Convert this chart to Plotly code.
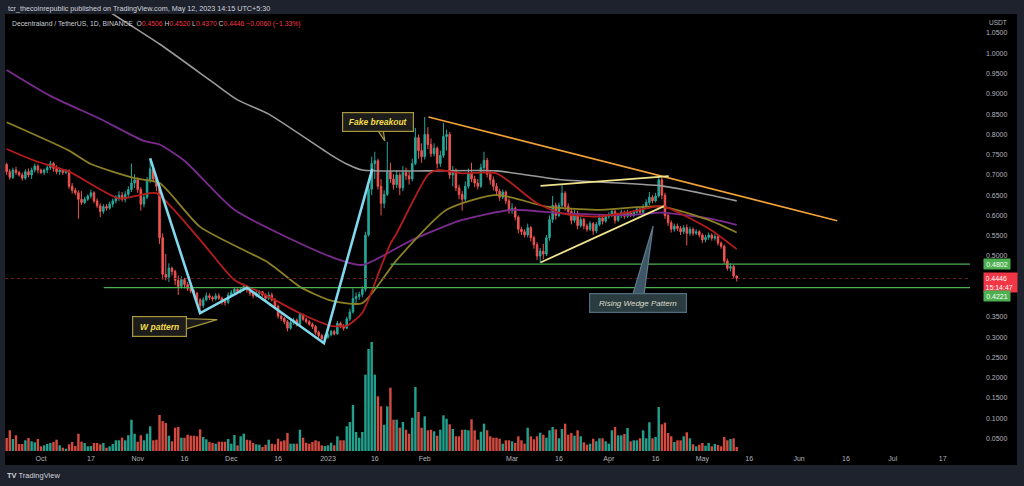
import pandas as pd
import plotly.graph_objects as go

# ---------------- data ----------------
dates = pd.date_range("2022-09-20", "2023-05-12", freq="D")
first_open = 0.726

close = [
    # Sep 20-30
    0.708, 0.694, 0.712, 0.706, 0.700, 0.692, 0.708, 0.700, 0.712, 0.722, 0.712,
    # Oct
    0.706, 0.712, 0.718, 0.728, 0.716, 0.708, 0.712, 0.706, 0.710, 0.672, 0.662, 0.656, 0.640, 0.632, 0.640, 0.648,
    0.656, 0.636, 0.624, 0.610, 0.622, 0.618, 0.628, 0.636, 0.642, 0.650, 0.640, 0.652, 0.664, 0.680, 0.688,
    # Nov
    0.664, 0.628, 0.645, 0.688, 0.715, 0.690, 0.672, 0.545, 0.455, 0.448, 0.470, 0.462, 0.440, 0.425, 0.442,
    0.430, 0.420, 0.414, 0.408, 0.392, 0.378, 0.392, 0.402, 0.398, 0.394, 0.402, 0.396, 0.388, 0.386, 0.404,
    # Dec
    0.410, 0.418, 0.412, 0.418, 0.425, 0.416, 0.408, 0.402, 0.408, 0.412, 0.404, 0.396, 0.404, 0.392, 0.376, 0.352,
    0.346, 0.338, 0.322, 0.336, 0.342, 0.332, 0.356, 0.344, 0.338, 0.332, 0.326, 0.312, 0.304, 0.296, 0.300,
    # Jan
    0.306, 0.314, 0.308, 0.334, 0.328, 0.322, 0.345, 0.362, 0.395, 0.400, 0.405, 0.418, 0.552, 0.665, 0.728, 0.735,
    0.672, 0.630, 0.652, 0.708, 0.690, 0.676, 0.700, 0.668, 0.706, 0.698, 0.690, 0.728, 0.792, 0.760, 0.745,
    # Feb
    0.800, 0.775, 0.752, 0.766, 0.728, 0.748, 0.795, 0.800, 0.700, 0.712, 0.668, 0.652, 0.640, 0.672,
    0.705, 0.690, 0.680, 0.672, 0.718, 0.736, 0.702, 0.688, 0.672, 0.660, 0.645, 0.658, 0.636, 0.612,
    # Mar
    0.618, 0.596, 0.566, 0.560, 0.552, 0.570, 0.545, 0.528, 0.500, 0.512, 0.505, 0.545, 0.590, 0.625, 0.600, 0.625,
    0.655, 0.622, 0.610, 0.588, 0.606, 0.575, 0.590, 0.574, 0.566, 0.580, 0.562, 0.578, 0.594, 0.586, 0.598,
    # Apr
    0.602, 0.610, 0.588, 0.600, 0.608, 0.598, 0.606, 0.600, 0.608, 0.616, 0.608, 0.622, 0.632, 0.645, 0.636,
    0.648, 0.688, 0.650, 0.600, 0.582, 0.566, 0.574, 0.568, 0.560, 0.570, 0.556, 0.566, 0.556, 0.560, 0.552,
    # May 1-12
    0.540, 0.546, 0.552, 0.544, 0.548, 0.532, 0.524, 0.488, 0.470, 0.474, 0.4506, 0.4446,
]

high = [
    0.730, 0.715, 0.718, 0.720, 0.710, 0.706, 0.714, 0.716, 0.718, 0.728, 0.726,
    0.716, 0.716, 0.724, 0.735, 0.732, 0.724, 0.718, 0.714, 0.714, 0.714, 0.680, 0.668, 0.662, 0.660, 0.646, 0.652,
    0.664, 0.660, 0.642, 0.630, 0.628, 0.628, 0.634, 0.642, 0.650, 0.660, 0.658, 0.660, 0.672, 0.728, 0.702,
    0.694, 0.670, 0.652, 0.695, 0.741, 0.722, 0.698, 0.680, 0.556, 0.505, 0.482, 0.474, 0.466, 0.452, 0.450,
    0.446, 0.436, 0.428, 0.418, 0.412, 0.396, 0.398, 0.410, 0.408, 0.402, 0.408, 0.408, 0.400, 0.394, 0.410,
    0.416, 0.422, 0.420, 0.422, 0.432, 0.428, 0.420, 0.412, 0.414, 0.416, 0.414, 0.408, 0.412, 0.410, 0.396, 0.380,
    0.358, 0.350, 0.342, 0.342, 0.348, 0.346, 0.362, 0.358, 0.348, 0.342, 0.336, 0.330, 0.316, 0.308, 0.306,
    0.310, 0.318, 0.318, 0.340, 0.338, 0.332, 0.350, 0.370, 0.420, 0.410, 0.412, 0.425, 0.560, 0.680, 0.745, 0.757,
    0.740, 0.690, 0.662, 0.782, 0.730, 0.702, 0.712, 0.706, 0.722, 0.718, 0.708, 0.740, 0.816, 0.800, 0.778,
    0.843, 0.818, 0.790, 0.778, 0.770, 0.760, 0.828, 0.812, 0.806, 0.722, 0.716, 0.676, 0.660, 0.684,
    0.716, 0.730, 0.698, 0.690, 0.728, 0.757, 0.742, 0.710, 0.696, 0.680, 0.666, 0.664, 0.662, 0.642,
    0.630, 0.622, 0.600, 0.572, 0.566, 0.580, 0.574, 0.550, 0.534, 0.520, 0.530, 0.552, 0.600, 0.648, 0.632, 0.632,
    0.675, 0.660, 0.630, 0.618, 0.614, 0.612, 0.598, 0.594, 0.580, 0.586, 0.584, 0.584, 0.602, 0.600, 0.604,
    0.608, 0.616, 0.614, 0.606, 0.614, 0.612, 0.614, 0.610, 0.612, 0.622, 0.620, 0.628, 0.640, 0.658, 0.650,
    0.656, 0.697, 0.694, 0.656, 0.606, 0.588, 0.580, 0.580, 0.574, 0.576, 0.578, 0.572, 0.570, 0.566, 0.564,
    0.556, 0.552, 0.558, 0.556, 0.554, 0.552, 0.536, 0.528, 0.494, 0.482, 0.478, 0.4520,
]

low = [
    0.700, 0.688, 0.690, 0.700, 0.696, 0.686, 0.688, 0.694, 0.690, 0.706, 0.704,
    0.702, 0.700, 0.704, 0.712, 0.708, 0.702, 0.700, 0.700, 0.702, 0.666, 0.654, 0.650, 0.592, 0.626, 0.628, 0.636,
    0.642, 0.630, 0.618, 0.596, 0.604, 0.612, 0.614, 0.620, 0.630, 0.636, 0.634, 0.632, 0.646, 0.658, 0.668,
    0.656, 0.612, 0.620, 0.640, 0.680, 0.682, 0.660, 0.530, 0.442, 0.440, 0.436, 0.452, 0.428, 0.404, 0.420,
    0.420, 0.414, 0.408, 0.402, 0.380, 0.360, 0.372, 0.388, 0.392, 0.388, 0.390, 0.392, 0.380, 0.378, 0.382,
    0.400, 0.404, 0.406, 0.408, 0.414, 0.410, 0.402, 0.396, 0.398, 0.404, 0.400, 0.390, 0.392, 0.388, 0.370, 0.346,
    0.340, 0.332, 0.314, 0.318, 0.330, 0.326, 0.328, 0.340, 0.334, 0.328, 0.320, 0.306, 0.298, 0.285, 0.292,
    0.296, 0.302, 0.304, 0.306, 0.322, 0.316, 0.320, 0.340, 0.358, 0.384, 0.392, 0.398, 0.412, 0.548, 0.650, 0.690,
    0.664, 0.600, 0.618, 0.648, 0.680, 0.664, 0.668, 0.650, 0.660, 0.688, 0.676, 0.684, 0.724, 0.740, 0.730,
    0.738, 0.764, 0.744, 0.746, 0.716, 0.720, 0.742, 0.760, 0.690, 0.672, 0.660, 0.640, 0.612, 0.634,
    0.666, 0.682, 0.670, 0.664, 0.668, 0.706, 0.694, 0.676, 0.662, 0.648, 0.636, 0.640, 0.628, 0.604,
    0.604, 0.588, 0.556, 0.552, 0.546, 0.546, 0.536, 0.518, 0.490, 0.483, 0.492, 0.500, 0.538, 0.582, 0.590, 0.596,
    0.618, 0.612, 0.600, 0.578, 0.582, 0.566, 0.570, 0.566, 0.560, 0.562, 0.552, 0.556, 0.574, 0.578, 0.582,
    0.592, 0.596, 0.580, 0.584, 0.594, 0.592, 0.594, 0.596, 0.596, 0.604, 0.602, 0.604, 0.616, 0.626, 0.630,
    0.632, 0.644, 0.640, 0.592, 0.574, 0.558, 0.560, 0.562, 0.552, 0.554, 0.526, 0.550, 0.550, 0.552, 0.546,
    0.532, 0.534, 0.540, 0.538, 0.538, 0.526, 0.518, 0.480, 0.464, 0.462, 0.446, 0.4370,
]

# volume (relative units read as bar heights)
volume = [
    13, 20.7, 12, 15.7, 7, 7, 10.7, 13, 9.7, 8.7, 12,
    4.7, 5.7, 7, 8, 9, 11.3, 5.7, 3.3, 2.3, 6.7, 9, 5, 17.3, 9.3, 8, 4.7, 5, 8, 8, 6.7, 8, 3.3, 4.7, 7, 10.7,
    10.7, 13.3, 10.7, 15.7, 31.3, 17.3,
    9.3, 15.7, 10.7, 17.3, 24.7, 10.7, 11.3, 36, 30, 28, 15.3, 9.7, 23.3, 24, 13.3, 13.3, 16.3, 15.3, 15.3, 14.7,
    21.7, 14, 11.7, 9, 8, 7.3, 9.3, 9.3, 9.3, 12,
    7.3, 16, 5.7, 14.7, 17.3, 11.3, 10.7, 8, 6.7, 6.3, 4, 6.3, 11.3, 7.3, 6.7, 12.3, 9.7, 10.7, 18, 7.3, 7.3, 7.3,
    21.3, 13.3, 8.3, 7.3, 9, 10.7, 9.7, 5.7, 5,
    5.7, 8.3, 5.7, 14.7, 10.7, 10.7, 24.7, 29, 46, 19, 13.3, 19, 76.3, 102, 109, 76.3, 54.7, 44.7, 26.3, 44.7,
    63.3, 31.3, 31.3, 23.3, 29, 21.3, 17.3, 33.3, 64, 39, 23.3,
    34.7, 20.7, 21.3, 19.7, 15.3, 21.3, 35.7, 32.3, 26.7, 22, 14.7, 14.7, 21.3, 21.3, 20.7, 31.7, 20.7, 11.3,
    19.3, 27.3, 20.7, 14.7, 13.3, 13.3, 12.3, 7.3, 10.7, 10.7,
    9.7, 8, 14.7, 10.7, 7.3, 23.3, 14.7, 11.7, 14.7, 18.3, 16.3, 13.3, 20.7, 24, 21.7, 12.7, 22, 27.3, 16.3, 18,
    15.3, 20.7, 14.7, 8.7, 6.3, 7.3, 12.3, 9.7, 12.7, 12.7, 9.7,
    7.3, 20.7, 24, 15.7, 15.7, 17, 23, 9.7, 10.7, 10.7, 12.7, 20.7, 12.7, 28.7, 12.7, 14, 44, 26.7, 28.3, 18,
    14.7, 9, 10.7, 10.7, 14.7, 18.7, 12.7, 6.7, 4.7, 6.3,
    8, 5.3, 8, 4.7, 7, 6, 4.7, 14, 10.7, 12, 12.7, 4,
]

# crypto daily candles: each open is the previous close
open_ = [first_open] + close[:-1]

# moving averages (read at waypoints)
ma20_dates = ["2022-09-20", "2022-09-29", "2022-10-10", "2022-10-26", "2022-11-02", "2022-11-07", "2022-11-21",
              "2022-12-02", "2022-12-10", "2022-12-23", "2023-01-02", "2023-01-07", "2023-01-12", "2023-01-18",
              "2023-01-21", "2023-01-23", "2023-02-02", "2023-02-05", "2023-02-13", "2023-02-24", "2023-03-09",
              "2023-03-17", "2023-03-28", "2023-04-08", "2023-04-18", "2023-05-03", "2023-05-12"]
ma20_vals = [0.764, 0.735, 0.708, 0.642, 0.651, 0.655, 0.540, 0.441, 0.412, 0.359, 0.328, 0.328, 0.360, 0.474,
             0.530, 0.556, 0.700, 0.712, 0.704, 0.704, 0.630, 0.605, 0.597, 0.609, 0.623, 0.568, 0.517]

ma50_dates = ["2022-09-20", "2022-10-10", "2022-10-17", "2022-10-31", "2022-11-08", "2022-11-21", "2022-12-13",
              "2022-12-23", "2023-01-02", "2023-01-12", "2023-01-23", "2023-02-08", "2023-02-24", "2023-03-12",
              "2023-03-28", "2023-04-18", "2023-05-03", "2023-05-12"]
ma50_vals = [0.830, 0.760, 0.727, 0.692, 0.680, 0.572, 0.483, 0.424, 0.390, 0.384, 0.490, 0.614, 0.651, 0.622,
             0.614, 0.622, 0.589, 0.558]

ma100_dates = ["2022-09-20", "2022-10-04", "2022-10-20", "2022-11-03", "2022-11-08", "2022-11-16", "2022-12-02",
               "2023-01-02", "2023-01-12", "2023-01-28", "2023-02-13", "2023-03-01", "2023-03-17", "2023-04-08",
               "2023-04-18", "2023-05-03", "2023-05-12"]
ma100_vals = [0.959, 0.895, 0.838, 0.784, 0.775, 0.735, 0.614, 0.498, 0.478, 0.540, 0.589, 0.614, 0.605, 0.601,
              0.607, 0.593, 0.577]

ma200_dates = ["2022-10-20", "2022-10-24", "2022-11-08", "2022-11-25", "2022-12-03", "2022-12-13", "2023-01-02",
               "2023-01-07", "2023-01-12", "2023-02-02", "2023-02-24", "2023-03-17", "2023-04-18", "2023-05-03",
               "2023-05-12"]
ma200_vals = [1.117, 1.097, 1.023, 0.929, 0.885, 0.850, 0.749, 0.727, 0.712, 0.710, 0.710, 0.688, 0.673, 0.651,
              0.636]

# drawings (anchors as day offsets from 2023-01-01, price)
w_days = [-57, -41, -26, -1.3, 14.2]
w_prices = [0.741, 0.359, 0.422, 0.285, 0.715]
trend_days = [32.2, 163.2]
trend_prices = [0.843, 0.587]
wedge_up_days = [68.1, 109.2]
wedge_up_prices = [0.673, 0.697]
wedge_lo_days = [68.1, 107.7]
wedge_lo_prices = [0.484, 0.623]
support_hi = 0.4802
support_hi_start = 20
support_lo = 0.4221
support_lo_start = -71.9
last_price = 0.4446

x_ticks = ["2022-10-01", "2022-10-17", "2022-11-01", "2022-11-16", "2022-12-01", "2022-12-16", "2023-01-01",
           "2023-01-16", "2023-02-01", "2023-03-01", "2023-03-16", "2023-04-01", "2023-04-16", "2023-05-01",
           "2023-05-16", "2023-06-01", "2023-06-16", "2023-07-01", "2023-07-17"]
x_labels = ["Oct", "17", "Nov", "16", "Dec", "16", "2023", "16", "Feb", "Mar", "16", "Apr", "16", "May", "16",
            "Jun", "16", "Jul", "17"]

# ---------------- figure ----------------
BASE = pd.Timestamp("2023-01-01")


def day(off):
    return BASE + pd.Timedelta(days=off)


x_start, x_end = day(-103.53), day(205.77)
FONT = "Liberation Sans"
AX = "#b2b5be"

fig = go.Figure()

vol_colors = ["#22a08e" if c >= o else "#d24a40" for o, c in zip(open_, close)]
fig.add_trace(go.Bar(x=dates, y=volume, marker=dict(color=vol_colors, line=dict(width=0)), yaxis="y2",
                     hoverinfo="skip"))

fig.add_trace(go.Candlestick(
    x=dates, open=open_, high=high, low=low, close=close,
    increasing=dict(line=dict(color="#26a69a", width=1), fillcolor="#26a69a"),
    decreasing=dict(line=dict(color="#ef5350", width=1), fillcolor="#ef5350"),
    whiskerwidth=0))

for dts, vals, col, w in [(ma200_dates, ma200_vals, "#9a9a9a", 1.6),
                          (ma100_dates, ma100_vals, "#7b2a8e", 1.8),
                          (ma50_dates, ma50_vals, "#8c7f24", 1.8),
                          (ma20_dates, ma20_vals, "#b51c1c", 1.8)]:
    fig.add_trace(go.Scatter(x=pd.to_datetime(dts), y=vals, mode="lines",
                             line=dict(color=col, width=w, shape="spline", smoothing=0.6), hoverinfo="skip"))

# horizontal levels
fig.add_trace(go.Scatter(x=[x_start, x_end], y=[last_price, last_price], mode="lines",
                         line=dict(color="#6a1d26", width=1, dash="dot"), hoverinfo="skip"))
fig.add_trace(go.Scatter(x=[day(support_hi_start), x_end], y=[support_hi, support_hi], mode="lines",
                         line=dict(color="#4caf50", width=1.2), hoverinfo="skip"))
fig.add_trace(go.Scatter(x=[day(support_lo_start), x_end], y=[support_lo, support_lo], mode="lines",
                         line=dict(color="#4caf50", width=1.2), hoverinfo="skip"))

# drawings
fig.add_trace(go.Scatter(x=[day(d) for d in trend_days], y=trend_prices, mode="lines",
                         line=dict(color="#f2a236", width=1.6), hoverinfo="skip"))
fig.add_trace(go.Scatter(x=[day(d) for d in wedge_up_days], y=wedge_up_prices, mode="lines",
                         line=dict(color="#f1e28e", width=1.8), hoverinfo="skip"))
fig.add_trace(go.Scatter(x=[day(d) for d in wedge_lo_days], y=wedge_lo_prices, mode="lines",
                         line=dict(color="#f1e28e", width=1.8), hoverinfo="skip"))
fig.add_trace(go.Scatter(x=[day(d) for d in w_days], y=w_prices, mode="lines",
                         line=dict(color="#80d8ec", width=2.6), hoverinfo="skip"))

# callout tails
tails = [
    ([15.5, 17.6, 18.2], [0.815, 0.815, 0.784], "#1c1c1a", "#a8963a"),
    ([-46.5, -46.5, -35.5], [0.346, 0.318, 0.343], "#1c1c1a", "#a8963a"),
    ([97.5, 101.2, 104.2], [0.400, 0.400, 0.574], "#3e5566", "#5d7b8e"),
]
for tx, ty, fc, lc in tails:
    fig.add_trace(go.Scatter(x=[day(d) for d in tx] + [day(tx[0])], y=ty + [ty[0]], mode="lines",
                             fill="toself", fillcolor=fc, line=dict(color=lc, width=1.2), hoverinfo="skip"))

annotations = [
    dict(xref="paper", yref="paper", x=0.001, y=1.0137, xanchor="left", yanchor="middle", showarrow=False,
         text="tcr_thecoinrepublic published on TradingView.com, May 12, 2023 14:15 UTC+5:30",
         font=dict(family=FONT, size=7.2, color="#d1d4dc")),
    dict(xref="paper", yref="paper", x=0.0052, y=0.977, xanchor="left", yanchor="middle", showarrow=False,
         text=("Decentraland / TetherUS, 1D, BINANCE&nbsp;&nbsp;O<span style='color:#f23645'>0.4506</span>&nbsp;"
               "H<span style='color:#f23645'>0.4520</span>&nbsp;L<span style='color:#f23645'>0.4370</span>"
               "&nbsp;C<span style='color:#f23645'>0.4446</span>&nbsp;"
               "<span style='color:#f23645'>−0.0060 (−1.33%)</span>"),
         font=dict(family=FONT, size=6.8, color="#c9ccd4")),
    dict(xref="paper", yref="paper", x=(987 - 5) / 965, y=(451 - 22.5) / 437, xanchor="left", yanchor="middle",
         showarrow=False, text="USDT", font=dict(family=FONT, size=6.5, color=AX)),
    dict(xref="paper", yref="paper", x=0.0, y=(451 - 476) / 437, xanchor="left", yanchor="middle",
         showarrow=False, text="<b>TV</b> TradingView", font=dict(family=FONT, size=7.5, color="#d1d4dc")),
    # price labels on the scale
    dict(xref="paper", yref="y", x=(983 - 5) / 965, y=support_hi, xanchor="left", yanchor="middle",
         showarrow=False, text="0.4802", bgcolor="#4caf50", borderpad=1.5, width=23,
         font=dict(family=FONT, size=7, color="#ffffff")),
    dict(xref="paper", yref="y", x=(983 - 5) / 965, y=last_price, yshift=-4, xanchor="left", yanchor="middle",
         showarrow=False, text="0.4446<br>15:14:47", bgcolor="#f23645", borderpad=1.5, width=30,
         font=dict(family=FONT, size=7, color="#ffffff"), align="left"),
    dict(xref="paper", yref="y", x=(983 - 5) / 965, y=support_lo, yshift=-8, xanchor="left", yanchor="middle",
         showarrow=False, text="0.4221", bgcolor="#4caf50", borderpad=1.5, width=23,
         font=dict(family=FONT, size=7, color="#ffffff")),
    # callouts
    dict(x=day(16.0), y=0.831, xref="x", yref="y", showarrow=False, text="Fake breakout",
         bgcolor="#1c1c1a", bordercolor="#a8963a", borderwidth=1.2, borderpad=2, width=66, height=14,
         font=dict(family=FONT, size=8.5, color="#f4dc4a", style="italic", weight="bold")),
    dict(x=day(-53.9), y=0.326, xref="x", yref="y", showarrow=False, text="W pattern",
         bgcolor="#1c1c1a", bordercolor="#a8963a", borderwidth=1.2, borderpad=2, width=49, height=15,
         font=dict(family=FONT, size=8.5, color="#f4dc4a", style="italic", weight="bold")),
    dict(x=day(99.2), y=0.384, xref="x", yref="y", showarrow=False, text="Rising Wedge Pattern",
         bgcolor="#2b3c40", bordercolor="#4f6f80", borderwidth=1.2, borderpad=2, width=92, height=14,
         font=dict(family=FONT, size=8, color="#dcdcc8", style="italic")),
]

fig.update_layout(
    width=1024, height=486,
    margin=dict(l=5, r=54, t=14, b=35),
    paper_bgcolor="#1e222d", plot_bgcolor="#000000",
    showlegend=False, bargap=0.22,
    xaxis=dict(type="date", range=[x_start, x_end], tickvals=x_ticks, ticktext=x_labels,
               showgrid=False, zeroline=False, showline=False, ticks="", ticklabelstandoff=2,
               tickfont=dict(family=FONT, size=7, color=AX), rangeslider=dict(visible=False), fixedrange=True),
    yaxis=dict(side="right", range=[0.0192, 1.0969], tick0=0, dtick=0.05, tickformat=".4f",
               showgrid=False, zeroline=False, showline=False, ticks="", ticklabelstandoff=15,
               tickfont=dict(family=FONT, size=7, color=AX), fixedrange=True),
    yaxis2=dict(overlaying="y", range=[0, 437], visible=False, fixedrange=True),
    annotations=annotations,
    shapes=[dict(type="rect", xref="paper", yref="paper", x0=0, x1=(1017 - 5) / 965, y0=(451 - 465) / 437, y1=1,
                 fillcolor="#000000", line=dict(width=0), layer="below")],
)

fig.write_html("out.html")
